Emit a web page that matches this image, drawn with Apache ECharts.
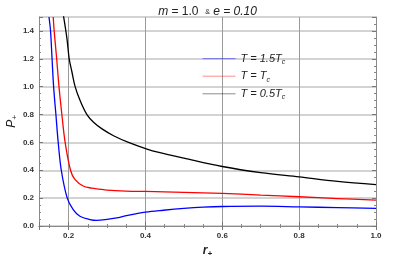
<!DOCTYPE html>
<html>
<head>
<meta charset="utf-8">
<script src="https://cdn.jsdelivr.net/npm/echarts@6/dist/echarts.min.js"></script>
<style>html,body{margin:0;padding:0;background:#fff;}#c{width:415px;height:260px;}</style>
</head>
<body>
<div id="c"></div>
<script>
// r+ values and P+ values for each temperature curve
const rBlue = [0.149, 0.153, 0.157, 0.161, 0.167, 0.173, 0.181, 0.1965, 0.212, 0.2295, 0.2555, 0.273, 0.3, 0.325, 0.35, 0.4, 0.447, 0.5, 0.55, 0.6, 0.7, 0.8, 0.9, 1.0];
const pBlue = [1.5, 1.4, 1.2, 1.0, 0.8, 0.6, 0.4, 0.2, 0.118, 0.07, 0.046, 0.04, 0.047, 0.058, 0.074, 0.099, 0.113, 0.126, 0.135, 0.14, 0.142, 0.137, 0.132, 0.127];
const rRed = [0.16, 0.1625, 0.169, 0.175, 0.1825, 0.191, 0.205, 0.2164, 0.238, 0.26, 0.28, 0.3, 0.35, 0.4, 0.5, 0.6, 0.7, 0.8, 0.9, 1.0];
const pRed = [1.5, 1.4, 1.2, 1.0, 0.8, 0.6, 0.4, 0.335, 0.287, 0.272, 0.265, 0.258, 0.251, 0.248, 0.242, 0.234, 0.222, 0.21, 0.197, 0.185];
const rBlack = [0.186, 0.1956, 0.2016, 0.2086, 0.217, 0.230, 0.2477, 0.265, 0.287, 0.317, 0.356, 0.404, 0.435, 0.5, 0.6, 0.7, 0.8, 0.9, 1.0];
const pBlack = [1.52, 1.348, 1.2, 1.107, 1.0, 0.9, 0.8, 0.745, 0.697, 0.648, 0.6, 0.552, 0.528, 0.487, 0.427, 0.383, 0.352, 0.32, 0.297];
const seriesNames = ['T = 1.5Tc', 'T = Tc', 'T = 0.5Tc'];
const legendRich = ['{t|T = 1.5T}{s|c}', '{t|T = T}{s|c}', '{t|T = 0.5T}{s|c}'];
const xMin = 0.123, xMax = 1.0, yMin = 0, yMax = 1.5, yStep = 0.2;

const zip = (xs, ys) => xs.map((x, i) => [x, ys[i]]);
const font = 'Liberation Sans, Arial, sans-serif';
const chart = echarts.init(document.getElementById('c'), null, {renderer: 'canvas'});

const tickCommon = {inside: true, length: 4, lineStyle: {color: '#777', width: 1}};
const minorCommon = {show: true, splitNumber: 4, length: 2, lineStyle: {color: '#888', width: 1}};
const axisLineCommon = {show: true, lineStyle: {color: '#8a8a8a', width: 1}};

chart.setOption({
  animation: false,
  backgroundColor: '#fff',
  title: {
    text: '{i|m}{n| = 1.0  }{a|&}{i| e = 0.10}',
    left: 'center', top: 1,
    textStyle: {
      fontWeight: 'normal',
      rich: {
        i: {fontFamily: font, fontStyle: 'italic', fontWeight: 'normal', fontSize: 12, color: '#222'},
        n: {fontFamily: font, fontWeight: 'normal', fontSize: 12, color: '#222'},
        a: {fontFamily: font, fontWeight: 'normal', fontSize: 7, color: '#222'}
      }
    }
  },
  grid: {left: 39, right: 39, top: 17, bottom: 34, containLabel: false, outerBoundsMode: 'none'},
  legend: {
    orient: 'vertical', left: 197, top: 48, itemGap: 5,
    itemWidth: 33, itemHeight: 14, selectedMode: false,
    data: seriesNames,
    itemStyle: {opacity: 0},
    lineStyle: {width: 1, opacity: 0.45},
    formatter: name => legendRich[seriesNames.indexOf(name)],
    textStyle: {
      rich: {
        t: {fontFamily: font, fontStyle: 'italic', fontSize: 11, color: '#222', lineHeight: 14},
        s: {fontFamily: font, fontStyle: 'italic', fontSize: 7, color: '#222', verticalAlign: 'bottom', lineHeight: 10}
      }
    }
  },
  xAxis: [{
    type: 'value', position: 'bottom', min: xMin, max: xMax, splitNumber: 5,
    axisLine: axisLineCommon,
    axisTick: tickCommon, minorTick: minorCommon,
    splitLine: {show: true, lineStyle: {color: '#9a9a9a', width: 1}},
    axisLabel: {showMinLabel: false, margin: 6, fontFamily: font, fontWeight: 'bold', fontSize: 8, color: '#333',
      formatter: v => v.toFixed(1)},
    name: '{r|r}{p|+}', nameLocation: 'middle', nameGap: 16,
    nameTextStyle: {rich: {
      r: {fontFamily: font, fontStyle: 'italic', fontWeight: 'bold', fontSize: 12, color: '#222', lineHeight: 14},
      p: {fontFamily: font, fontStyle: 'italic', fontWeight: 'bold', fontSize: 8, color: '#222', verticalAlign: 'bottom', lineHeight: 9}
    }}
  }, {
    type: 'value', position: 'top', min: xMin, max: xMax, splitNumber: 5,
    axisLine: axisLineCommon, axisTick: tickCommon, minorTick: minorCommon,
    splitLine: {show: false}, axisLabel: {show: false}
  }],
  yAxis: [{
    type: 'value', position: 'left', min: yMin, max: yMax, interval: yStep,
    axisLine: axisLineCommon, axisTick: tickCommon, minorTick: minorCommon,
    splitLine: {show: true, lineStyle: {color: '#c4c4c4', width: 1.6}},
    axisLabel: {showMaxLabel: false, margin: 5, fontFamily: font, fontWeight: 'bold', fontSize: 8, color: '#333',
      formatter: v => v.toFixed(1)},
    name: '{r|P}{p|+}', nameLocation: 'middle', nameGap: 20, nameRotate: 90, nameMoveOverlap: false,
    nameTextStyle: {rich: {
      r: {fontFamily: font, fontStyle: 'italic', fontSize: 12, color: '#222', lineHeight: 14},
      p: {fontFamily: font, fontStyle: 'italic', fontSize: 8, color: '#222', verticalAlign: 'bottom', lineHeight: 9}
    }}
  }, {
    type: 'value', position: 'right', min: yMin, max: yMax, interval: yStep,
    axisLine: axisLineCommon, axisTick: tickCommon, minorTick: minorCommon,
    splitLine: {show: false}, axisLabel: {show: false}
  }],
  series: [
    {name: seriesNames[0], type: 'line', data: zip(rBlue, pBlue), smooth: 0.35, showSymbol: false, symbol: 'none',
      lineStyle: {color: '#0000ff', width: 1.3}, itemStyle: {color: '#0000ff'}, clip: true},
    {name: seriesNames[1], type: 'line', data: zip(rRed, pRed), smooth: 0.35, showSymbol: false, symbol: 'none',
      lineStyle: {color: '#ff0000', width: 1.3}, itemStyle: {color: '#ff0000'}, clip: true},
    {name: seriesNames[2], type: 'line', data: zip(rBlack, pBlack), smooth: 0.35, showSymbol: false, symbol: 'none',
      lineStyle: {color: '#000000', width: 1.3}, itemStyle: {color: '#000000'}, clip: true}
  ]
});
</script>
</body>
</html>
